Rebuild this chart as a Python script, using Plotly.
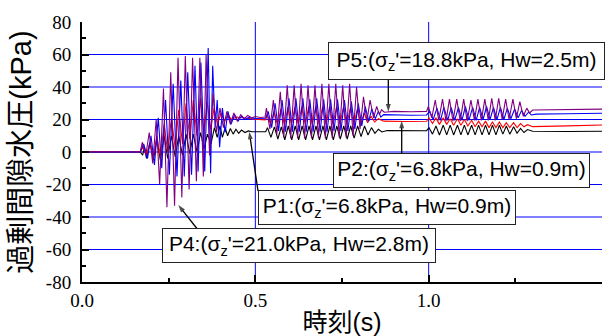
import plotly.graph_objects as go

# ---------------- data ----------------
# P4 (purple)
p4_t = [0.000, 0.100, 0.168, 0.174, 0.184, 0.194, 0.204, 0.214, 0.224, 0.235, 0.245, 0.256, 0.267,
        0.277, 0.288, 0.298, 0.309, 0.319, 0.330, 0.340, 0.350, 0.358, 0.368, 0.378, 0.388, 0.398,
        0.408, 0.418, 0.428, 0.438, 0.448, 0.458, 0.468, 0.478, 0.490, 0.500, 0.515, 0.528,
        0.532, 0.542, 0.552, 0.562, 0.572, 0.582, 0.592, 0.602, 0.612, 0.622, 0.632, 0.642, 0.652,
        0.662, 0.672, 0.682, 0.692, 0.702, 0.712, 0.722, 0.732, 0.742, 0.752, 0.762, 0.772, 0.782,
        0.792, 0.802, 0.812, 0.822, 0.831, 0.841, 0.850, 0.858, 0.864, 0.872, 0.900, 0.950, 0.994,
        0.999, 1.009, 1.019, 1.029, 1.040, 1.050, 1.060, 1.070, 1.081, 1.091, 1.101, 1.111, 1.122,
        1.132, 1.142, 1.152, 1.162, 1.172, 1.182, 1.192, 1.202, 1.212, 1.222, 1.232, 1.243, 1.253,
        1.263, 1.273, 1.283, 1.291, 1.300, 1.400, 1.500]
p4_v = [0.3, 0.0, 0.2, 6, -2, 12, -7, 20, -20, 39, -34, 49, -33,
        58, -28, 59, -23, 58, -18, 58, -15, 60, -2, 36, 12, 27,
        15, 25, 17, 24, 19, 23, 20.5, 22.5, 21, 21.8, 21.2, 21.5,
        27, 14, 32, 11, 37, 9, 41, 8.5, 41, 8.5, 42, 8.5, 41,
        8.5, 41, 8.5, 42, 8.5, 42, 8.5, 42, 9, 41, 9, 42, 10,
        40, 14, 34, 19, 32, 21, 28, 23, 26, 24.5, 25.0, 24.8, 25.0,
        28, 21, 32, 19.5, 32.5, 19, 32.5, 19, 32.5, 19, 32.5, 19, 32,
        19.5, 32.5, 19.5, 32.5, 19.5, 33, 19.5, 33, 20, 32.5, 20, 32.5, 20.5,
        31, 22, 27, 24, 25.8, 26.1, 26.4]

# P5 (blue)
p5_t = [0.000, 0.168, 0.178, 0.189, 0.199, 0.209, 0.220, 0.230, 0.241, 0.252, 0.263, 0.274, 0.285,
        0.295, 0.305, 0.316, 0.326, 0.335, 0.343, 0.354, 0.364, 0.371, 0.377, 0.384, 0.390, 0.397,
        0.405, 0.413, 0.421, 0.430, 0.440, 0.450, 0.460, 0.470, 0.480, 0.500, 0.528,
        0.530, 0.537, 0.547, 0.557, 0.567, 0.577, 0.587, 0.597, 0.607, 0.617, 0.627, 0.637, 0.647,
        0.657, 0.667, 0.677, 0.687, 0.697, 0.707, 0.717, 0.727, 0.737, 0.747, 0.757, 0.767, 0.777,
        0.787, 0.797, 0.807, 0.817, 0.827, 0.836, 0.846, 0.855, 0.862, 0.870, 0.900, 0.950, 0.994,
        1.003, 1.013, 1.024, 1.034, 1.044, 1.055, 1.065, 1.075, 1.086, 1.096, 1.106, 1.116, 1.127,
        1.137, 1.147, 1.157, 1.167, 1.177, 1.187, 1.197, 1.207, 1.217, 1.227, 1.237, 1.248, 1.258,
        1.268, 1.278, 1.288, 1.296, 1.310, 1.400, 1.500]
p5_v = [0.0, 0.0, 5, -4, 10, -8, 21, -10, 32, -14, 42, -15, 44,
        -15, 49, -14, 53, -12, 55, -12, 64, -13, 53, 15, 32, 3,
        27, 12, 25, 17, 23, 19, 22, 20, 21.2, 20.6, 20.8,
        21, 25, 15, 30, 13, 32, 12.5, 33, 12.5, 33, 12.5, 33, 12.5,
        32.5, 12.5, 33, 12.5, 32.5, 12.5, 32.5, 13, 32.5, 13, 32, 13, 31,
        14, 30, 16, 28, 19, 26.5, 20.5, 25, 21.5, 23, 22.7, 22.6, 22.8,
        25, 20, 27, 19.5, 27.5, 19.5, 27.5, 19.5, 27.5, 19.5, 28, 19.5, 27.5,
        19.5, 27.5, 20, 28, 20, 27.5, 20, 27.5, 20, 27, 20.5, 26.5, 21,
        25.5, 22, 24.5, 22.8, 23.3, 23.5, 23.8]

# P2 (red)
p2_t = [0.000, 0.168, 0.176, 0.186, 0.196, 0.206, 0.216, 0.226, 0.237, 0.247, 0.258, 0.269, 0.279,
        0.290, 0.300, 0.311, 0.321, 0.332, 0.342, 0.352, 0.361, 0.371, 0.381, 0.391, 0.401, 0.411,
        0.421, 0.431, 0.445, 0.470, 0.500, 0.528,
        0.530, 0.534, 0.544, 0.554, 0.564, 0.574, 0.584, 0.594, 0.604, 0.614, 0.624, 0.634, 0.644,
        0.654, 0.664, 0.674, 0.684, 0.694, 0.704, 0.714, 0.724, 0.734, 0.744, 0.754, 0.764, 0.774,
        0.784, 0.794, 0.804, 0.814, 0.824, 0.834, 0.844, 0.855, 0.870, 0.930, 0.994,
        1.001, 1.011, 1.021, 1.031, 1.042, 1.052, 1.062, 1.072, 1.083, 1.093, 1.103, 1.113, 1.124,
        1.134, 1.144, 1.154, 1.164, 1.174, 1.184, 1.194, 1.204, 1.214, 1.224, 1.234, 1.245, 1.255,
        1.265, 1.275, 1.285, 1.300, 1.400, 1.500]
p2_v = [0.0, 0.0, 3, -2, 6, -3, 10, -3, 17, 0, 21, 2, 26,
        5, 30, 8, 32, 10, 33, 12, 31, 14, 27, 17, 24, 19,
        23, 20, 21.5, 20.8, 20.2, 19.8,
        20, 23, 17, 25, 16.5, 26.5, 16.5, 27.5, 17, 27.5, 17, 28, 17,
        28, 17, 28, 17, 28, 17, 28, 17, 27.5, 17, 27.5, 17, 27,
        17, 26, 17.5, 24, 18, 22, 18.5, 20.5, 19, 18.8, 18.9,
        21, 17.5, 21, 17, 21, 17, 20.5, 16.5, 20.5, 16.5, 20, 16, 19.5,
        15.5, 19, 15.5, 19, 15, 18.5, 15, 18.5, 15, 18, 15, 18, 15,
        17.5, 15.5, 16.8, 15.6, 16.1, 16.6]

# P1 (black)
p1_t = [0.000, 0.168, 0.175, 0.180, 0.186, 0.196, 0.206, 0.216, 0.226, 0.237, 0.247, 0.258, 0.269,
        0.279, 0.290, 0.300, 0.311, 0.321, 0.332, 0.342, 0.352, 0.362, 0.372, 0.382, 0.390, 0.398,
        0.405, 0.413, 0.420, 0.428, 0.436, 0.444, 0.452, 0.460, 0.470, 0.480, 0.490, 0.528,
        0.530, 0.535, 0.545, 0.555, 0.565, 0.575, 0.585, 0.595, 0.605, 0.615, 0.625, 0.635, 0.645,
        0.655, 0.665, 0.675, 0.685, 0.695, 0.705, 0.715, 0.725, 0.735, 0.745, 0.755, 0.765, 0.775,
        0.785, 0.795, 0.805, 0.815, 0.825, 0.835, 0.845, 0.855, 0.865, 0.880, 0.930, 0.994,
        1.001, 1.011, 1.021, 1.031, 1.042, 1.052, 1.062, 1.072, 1.083, 1.093, 1.103, 1.113, 1.124,
        1.134, 1.144, 1.154, 1.164, 1.174, 1.184, 1.194, 1.204, 1.214, 1.224, 1.234, 1.245, 1.255,
        1.265, 1.275, 1.285, 1.300, 1.400, 1.500]
p1_v = [0.0, 0.0, -2, 3, -4, 6, -5, 8, -5, 10, -4, 10, -3,
        10, -2, 11, -1, 11, 0, 12, 2, 11, 5, 15, 9, 16,
        9, 15, 10, 14.5, 11, 14, 11.5, 13.5, 12, 13, 12.5, 12.7,
        12.5, 15, 9, 15.5, 8, 15.5, 7.5, 16, 7.5, 16, 7.5, 16, 7.5,
        16, 7.5, 16, 7.5, 16, 7.5, 16, 7.5, 16, 8, 16, 8, 16,
        8.5, 16, 9.5, 16, 10.5, 15, 11.5, 14, 12.3, 13.2, 13.0, 13.1,
        15, 11, 16, 10.5, 16.5, 10.5, 16.5, 10.5, 16.5, 10.5, 16.5, 10.5, 16.5,
        10.5, 16.5, 10.5, 16.5, 10.5, 16.5, 10.5, 16.5, 11, 16, 11, 15.5, 11.5,
        14.5, 12, 13.8, 12.8, 12.6, 12.8]

# axes
x_tickvals = [0.0, 0.5, 1.0, 1.5]
x_ticktext = ["0.0", "0.5", "1.0", "1.5"]
x_minor = [0.25, 0.75, 1.25]
y_tickvals = [-80, -60, -40, -20, 0, 20, 40, 60, 80]
y_ticktext = ["-80", "-60", "-40", "-20", "0", "20", "40", "60", "80"]
y_minor = [-70, -50, -30, -10, 10, 30, 50, 70]
x_grid = [0.5, 1.0]
y_grid = [-60, -40, -20, 0, 20, 40, 60]

# labels: text, box centre (t, value), box size, arrow tail, arrow tip
labels = [
    ("P5:(σ<sub>z</sub>'=18.8kPa, Hw=2.5m)", 1.109, 56.1, 273, 34, (0.8836, 44.9), (0.8836, 24.8)),
    ("P2:(σ<sub>z</sub>'=6.8kPa, Hw=0.9m)", 1.0947, -11.4, 253, 31, (0.9222, -1.2), (0.9222, 19.3)),
    ("P1:(σ<sub>z</sub>'=6.8kPa, Hw=0.9m)", 0.880, -34.2, 254, 31, (0.5077, -24.0), (0.4826, 12.5)),
    ("P4:(σ<sub>z</sub>'=21.0kPa, Hw=2.8m)", 0.626, -57.5, 270, 31, (0.3326, -47.4), (0.2778, -32.6)),
]

# ---------------- figure ----------------
fig = go.Figure()
for t, v, c, name in [(p1_t, p1_v, "#000000", "P1"), (p2_t, p2_v, "#ff0000", "P2"),
                      (p5_t, p5_v, "#0000ff", "P5"), (p4_t, p4_v, "#800080", "P4")]:
    fig.add_trace(go.Scatter(x=t, y=v, mode="lines", name=name,
                             line=dict(color=c, width=1.1)))

for gy in y_grid:
    fig.add_shape(type="line", xref="x", yref="y", x0=0, x1=1.5, y0=gy, y1=gy,
                  line=dict(color="#0000ff", width=1), layer="below")
for gx in x_grid:
    fig.add_shape(type="line", xref="x", yref="y", x0=gx, x1=gx, y0=-80, y1=80,
                  line=dict(color="#0000ff", width=1), layer="below")

# arrows (line + arrow-head marker at the tip)
for text, cx, cy, w, h, tail, tip in labels:
    fig.add_trace(go.Scatter(x=[tail[0], tip[0]], y=[tail[1], tip[1]], mode="lines+markers",
                             line=dict(color="black", width=1.3),
                             marker=dict(symbol="arrow", angleref="previous", size=[0, 8],
                                         color="black", line=dict(width=0)),
                             hoverinfo="skip", showlegend=False))

for text, cx, cy, w, h, tail, tip in labels:
    fig.add_annotation(x=cx, y=cy, xref="x", yref="y", text=text, showarrow=False,
                       width=w, height=h, bgcolor="white", bordercolor="#222222",
                       borderwidth=1, borderpad=1,
                       font=dict(family="Liberation Sans, Arial", size=21, color="black"))

tickfont = dict(family="Liberation Serif, Times New Roman", size=19, color="black")
fig.update_xaxes(range=[0, 1.5], tickmode="array", tickvals=x_tickvals, ticktext=x_ticktext,
                 ticks="inside", ticklen=7, tickwidth=1.5, tickcolor="black",
                 minor=dict(tickmode="array", tickvals=x_minor, ticks="inside", ticklen=4,
                            tickwidth=1.5, tickcolor="black", showgrid=False),
                 showline=True, linewidth=2, linecolor="black", showgrid=False, zeroline=False,
                 tickfont=tickfont, automargin=False,
                 title=dict(text="時刻(s)", standoff=6,
                            font=dict(family="Liberation Sans, Noto Sans CJK JP", size=25,
                                      color="black")))
fig.update_yaxes(range=[-80, 80], tickmode="array", tickvals=y_tickvals, ticktext=y_ticktext,
                 ticks="inside", ticklen=7, tickwidth=1.5, tickcolor="black",
                 minor=dict(tickmode="array", tickvals=y_minor, ticks="inside", ticklen=4,
                            tickwidth=1.5, tickcolor="black", showgrid=False),
                 showline=True, linewidth=2, linecolor="black", showgrid=False, zeroline=False,
                 tickfont=tickfont, automargin=False, ticklabelstandoff=5,
                 title=dict(text="過剰間隙水圧(kPa)", standoff=6,
                            font=dict(family="Liberation Sans, Noto Sans CJK JP", size=29,
                                      color="black")))
fig.update_layout(width=613, height=336, margin=dict(l=82, r=11, t=22, b=54),
                  plot_bgcolor="white", paper_bgcolor="white", showlegend=False)

fig.write_html("out.html")
